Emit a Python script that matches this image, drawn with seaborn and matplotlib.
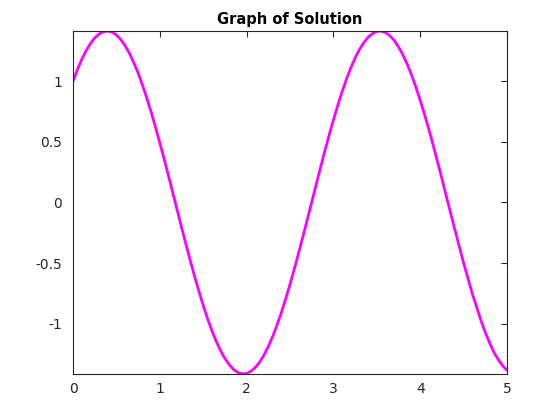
import matplotlib
matplotlib.use("Agg")
import matplotlib.pyplot as plt
import seaborn as sns
import pandas as pd

t = [0.00, 0.05, 0.10, 0.15, 0.20, 0.25, 0.30, 0.35, 0.40, 0.45,
     0.50, 0.55, 0.60, 0.65, 0.70, 0.75, 0.80, 0.85, 0.90, 0.95,
     1.00, 1.05, 1.10, 1.15, 1.20, 1.25, 1.30, 1.35, 1.40, 1.45,
     1.50, 1.55, 1.60, 1.65, 1.70, 1.75, 1.80, 1.85, 1.90, 1.95,
     2.00, 2.05, 2.10, 2.15, 2.20, 2.25, 2.30, 2.35, 2.40, 2.45,
     2.50, 2.55, 2.60, 2.65, 2.70, 2.75, 2.80, 2.85, 2.90, 2.95,
     3.00, 3.05, 3.10, 3.15, 3.20, 3.25, 3.30, 3.35, 3.40, 3.45,
     3.50, 3.55, 3.60, 3.65, 3.70, 3.75, 3.80, 3.85, 3.90, 3.95,
     4.00, 4.05, 4.10, 4.15, 4.20, 4.25, 4.30, 4.35, 4.40, 4.45,
     4.50, 4.55, 4.60, 4.65, 4.70, 4.75, 4.80, 4.85, 4.90, 4.95,
     5.00]
y = [1.000, 1.095, 1.179, 1.251, 1.311, 1.357, 1.390, 1.409, 1.414, 1.405,
     1.382, 1.345, 1.294, 1.231, 1.155, 1.068, 0.970, 0.863, 0.747, 0.623,
     0.493, 0.358, 0.220, 0.079, -0.062, -0.203, -0.341, -0.477, -0.607, -0.732,
     -0.849, -0.958, -1.057, -1.145, -1.222, -1.287, -1.339, -1.378, -1.403, -1.414,
     -1.410, -1.393, -1.362, -1.317, -1.259, -1.188, -1.106, -1.012, -0.909, -0.796,
     -0.675, -0.548, -0.414, -0.278, -0.138, 0.003, 0.145, 0.284, 0.421, 0.554,
     0.681, 0.801, 0.914, 1.017, 1.110, 1.192, 1.262, 1.319, 1.363, 1.394,
     1.411, 1.414, 1.402, 1.377, 1.338, 1.285, 1.220, 1.142, 1.053, 0.953,
     0.843, 0.726, 0.602, 0.471, 0.336, 0.197, 0.055, -0.086, -0.226, -0.363,
     -0.499, -0.626, -0.752, -0.862, -0.975, -1.072, -1.159, -1.237, -1.297, -1.347,
     -1.383]
xticks = [0, 1, 2, 3, 4, 5]
yticks = [-1, -0.5, 0, 0.5, 1]
yticklabels = ["-1", "-0.5", "0", "0.5", "1"]
title = "Graph of Solution"

sns.set_style("white")
plt.rcParams['font.family'] = ['DejaVu Sans']

df = pd.DataFrame({"t": t, "y": y})
fig = plt.figure(figsize=(5.6, 4.2), dpi=100)
ax = fig.add_axes([73/560, 1-374/420, (507-73)/560, (374-31)/420])
sns.lineplot(data=df, x="t", y="y", ax=ax, color="#ff00ff", linewidth=2.0)
ax.set_xlim(0, 5)
ax.set_ylim(-1.415, 1.415)
ax.set_xticks(xticks)
ax.set_xticklabels([str(v) for v in xticks])
ax.set_yticks(yticks)
ax.set_yticklabels(yticklabels)
ax.set_xlabel("")
ax.set_ylabel("")
ax.tick_params(direction="in", top=True, right=True, length=4, width=0.8,
               labelsize=10, colors="#262626", pad=6)
ax.tick_params(axis="y", pad=8)
for s in ax.spines.values():
    s.set_visible(True)
    s.set_color("#262626")
    s.set_linewidth(0.8)
ax.set_title(title, fontweight="bold", fontsize=10.5, pad=5, color="black")
fig.savefig("out.png", dpi=100)
